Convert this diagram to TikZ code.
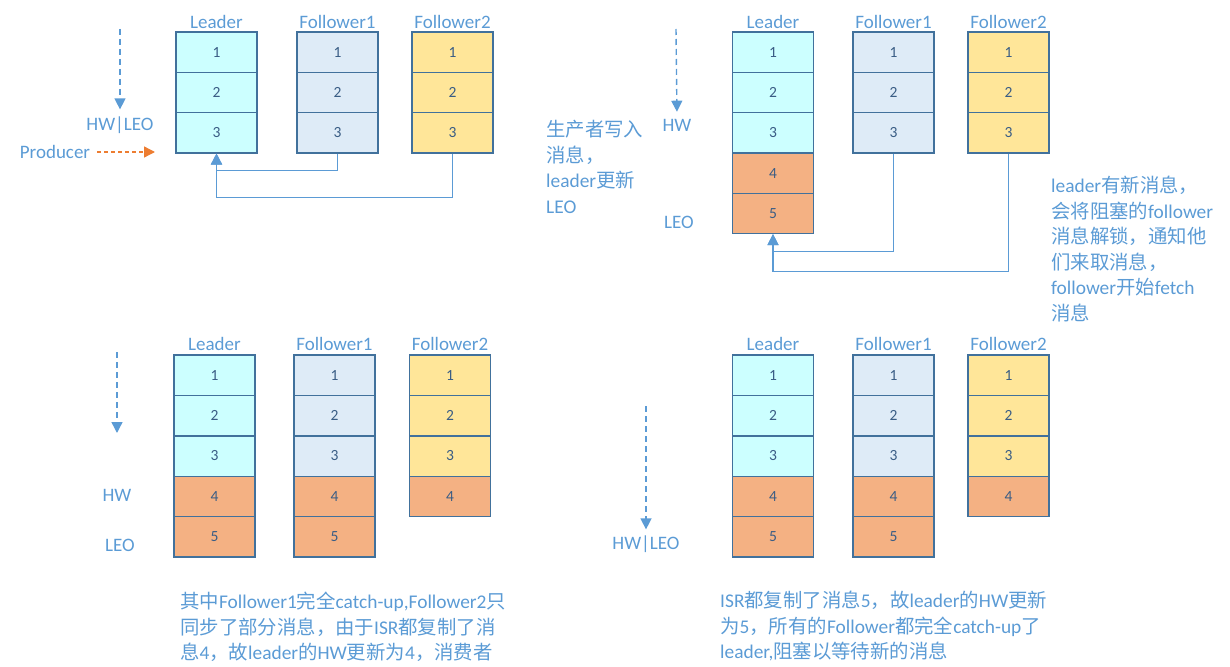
\documentclass[tikz,border=0pt]{standalone}
\usepackage{fontspec}
\setmainfont{Carlito}
\newfontfamily\cjk{Noto Sans CJK SC}
\newcommand{\zh}[1]{{\cjk #1}}
\usetikzlibrary{arrows.meta}
\definecolor{txtblue}{HTML}{5B9BD5}
\definecolor{cellline}{HTML}{41719C}
\definecolor{numtext}{HTML}{3A5D85}
\definecolor{leadfill}{HTML}{CCFFFF}
\definecolor{fonefill}{HTML}{DEEBF7}
\definecolor{ftwofill}{HTML}{FFE699}
\definecolor{newfill}{HTML}{F4B183}
\definecolor{prodorange}{HTML}{ED7D31}

\begin{document}
\begin{tikzpicture}[x=1pt, y=-1pt,
  cell/.style={draw=cellline, line width=1.3pt, rectangle, minimum width=81pt, minimum height=40.3pt, inner sep=0pt, text=numtext, font=\fontsize{15.5}{18}\selectfont},
  title/.style={text=txtblue, font=\fontsize{19}{22}\selectfont, inner sep=0pt},
  note/.style={text=txtblue, font=\fontsize{19.4}{25.5}\selectfont, align=left, inner sep=0pt, anchor=north west},
  conn/.style={draw=txtblue, line width=1.5pt, -{Triangle[width=11pt,length=11pt]}},
  ptr/.style={txtblue, line width=1.4pt, dash pattern=on 6pt off 4pt, -{Triangle[width=11pt,length=11pt]}},
]
\useasboundingbox (0,0) rectangle (1230,666);

% panel a: HW = LEO = 3
\foreach \col/\x/\clr/\name in {L/216.5/leadfill/Leader, A/337.5/fonefill/Follower1, B/452.5/ftwofill/Follower2} {
  \node (a\col t) [title] at (\x,22) {\name};
  \foreach [evaluate={\y=52.15+(\r-1)*40.3}] \r in {1,2,3}
    \node (a\col\r) [cell, fill=\clr] at (\x,\y) {\r};
}
\coordinate (aTop) at (120,29);
\node (aHw) [title] at (120,125) {HW|LEO};
\draw[ptr, shorten >=7pt] (aTop) -- (aHw.north);
\node (prod) [title] at (55,152) {Producer};
\coordinate (prodTip) at (155,152);
\draw[ptr, prodorange, line width=1.3pt, dash pattern=on 4pt off 3pt, shorten <=7pt] (prod.east) -- (prodTip);
\draw[conn] (aA3.south) -- ++(0,17) -| (aL3.south);
\draw[conn] (aB3.south) -- ++(0,44) -| (aL3.south);

% panel b: leader writes 4,5
\foreach \col/\x/\clr/\name in {L/773/leadfill/Leader, A/893.5/fonefill/Follower1, B/1008.5/ftwofill/Follower2} {
  \node (b\col t) [title] at (\x,22) {\name};
  \foreach [evaluate={\y=52.15+(\r-1)*40.3}] \r in {1,2,3}
    \node (b\col\r) [cell, fill=\clr] at (\x,\y) {\r};
}
\foreach [evaluate={\y=52.15+(\r-1)*40.3}] \r in {4,5}
  \node (bL\r) [cell, fill=newfill] at (773,\y) {\r};
\coordinate (bTop) at (676,29);
\node (bHw) [title] at (677,125) {HW};
\node (bLeo) [title] at (679,222) {LEO};
\draw[ptr, shorten >=7pt] (bTop) -- (bHw.north);
\draw[conn] (bA3.south) -- ++(0,97.7) -| (bL5.south);
\draw[conn] (bB3.south) -- ++(0,117.7) -| (bL5.south);
\node (bNoteL) [note] at (546,120) {\zh{生产者写入}\\\zh{消息，}\\leader\zh{更新}\\LEO};
\node (bNoteR) [note] at (1051,176) {leader\zh{有新消息，}\\\zh{会将阻塞的}follower\\\zh{消息解锁，通知他}\\\zh{们来取消息，}\\follower\zh{开始}fetch\\\zh{消息}};

% panel c: HW = 4
\foreach \col/\x/\clr/\name in {L/214.5/leadfill/Leader, A/334.5/fonefill/Follower1, B/450/ftwofill/Follower2} {
  \node (c\col t) [title] at (\x,344) {\name};
  \foreach [evaluate={\y=375.2+(\r-1)*40.4}] \r in {1,2,3}
    \node (c\col\r) [cell, fill=\clr] at (\x,\y) {\r};
}
\foreach [evaluate={\y=375.2+(\r-1)*40.4}] \r in {4,5} {
  \node (cL\r) [cell, fill=newfill] at (214.5,\y) {\r};
  \node (cA\r) [cell, fill=newfill] at (334.5,\y) {\r};
}
\node (cB4) [cell, fill=newfill] at (450,496.4) {4};
\coordinate (cTop) at (117,352);
\coordinate (cTip) at (117,433);
\draw[ptr] (cTop) -- (cTip);
\node (cHw) [title] at (117,495) {HW};
\node (cLeo) [title] at (120,545) {LEO};
\node (cNote) [note] at (180,592) {\zh{其中}Follower1\zh{完全}catch-up,Follower2\zh{只}\\\zh{同步了部分消息，由于}ISR\zh{都复制了消}\\\zh{息}4\zh{，故}leader\zh{的}HW\zh{更新为}4\zh{，消费者}};

% panel d: HW = LEO = 5
\foreach \col/\x/\clr/\name in {L/773/leadfill/Leader, A/893.5/fonefill/Follower1, B/1008.5/ftwofill/Follower2} {
  \node (d\col t) [title] at (\x,344) {\name};
  \foreach [evaluate={\y=375.2+(\r-1)*40.4}] \r in {1,2,3}
    \node (d\col\r) [cell, fill=\clr] at (\x,\y) {\r};
}
\foreach [evaluate={\y=375.2+(\r-1)*40.4}] \r in {4,5} {
  \node (dL\r) [cell, fill=newfill] at (773,\y) {\r};
  \node (dA\r) [cell, fill=newfill] at (893.5,\y) {\r};
}
\node (dB4) [cell, fill=newfill] at (1008.5,496.4) {4};
\coordinate (dTop) at (646,406);
\node (dHw) [title] at (646,544) {HW|LEO};
\draw[ptr, shorten >=6pt] (dTop) -- (dHw.north);
\node (dNote) [note] at (720,591) {ISR\zh{都复制了消息}5\zh{，故}leader\zh{的}HW\zh{更新}\\\zh{为}5\zh{，所有的}Follower\zh{都完全}catch-up\zh{了}\\leader,\zh{阻塞以等待新的消息}};
\end{tikzpicture}
\end{document}
